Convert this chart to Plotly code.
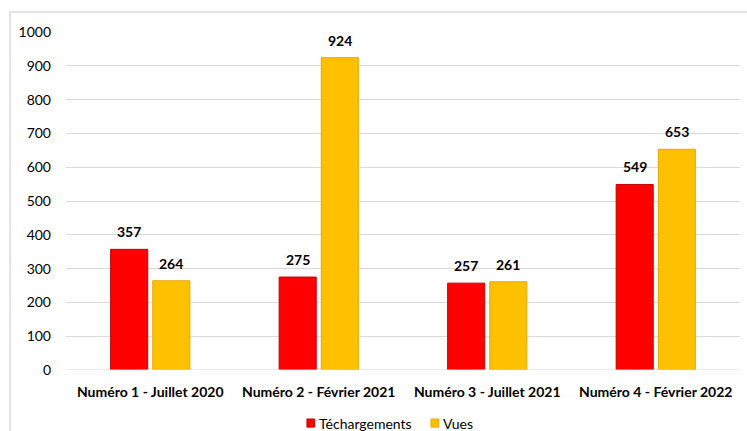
import plotly.graph_objects as go

categories = ["Numéro 1 - Juillet 2020", "Numéro 2 - Février 2021",
              "Numéro 3 - Juillet 2021", "Numéro 4 - Février 2022"]
telechargements = [357, 275, 257, 549]
vues = [264, 924, 261, 653]
y_ticks = [0, 100, 200, 300, 400, 500, 600, 700, 800, 900, 1000]
series_names = ["Téchargements", "Vues"]
series_colors = ["#FF0000", "#FFC000"]
series_lines = ["#C00000", "#E6A800"]

FONT = "Lato"
FS = 14

fig = go.Figure()
for name, vals, col, lc in zip(series_names, [telechargements, vues], series_colors, series_lines):
    fig.add_trace(go.Bar(name=name, x=categories, y=vals,
                         marker=dict(color=col, line=dict(color=lc, width=1))))

# value labels above bars
for vals, shift in ((telechargements, -21), (vues, 21)):
    for c, v in zip(categories, vals):
        fig.add_annotation(x=c, y=v, xref="x", yref="y", text=f"<b>{v}</b>",
                           showarrow=False, yanchor="bottom", xshift=shift, yshift=7,
                           font=dict(family=FONT, size=FS, color="#000000"))

# custom legend
legend_items = [(0.3575, series_names[0], series_colors[0], series_lines[0]),
                (0.5415, series_names[1], series_colors[1], series_lines[1])]
for x0, name, col, lc in legend_items:
    fig.add_shape(type="rect", xref="paper", yref="paper",
                  x0=x0, x1=x0 + 0.0115, y0=-0.169, y1=-0.145,
                  fillcolor=col, line=dict(color=lc, width=1))
    fig.add_annotation(x=x0 + 0.0155, y=-0.157, xref="paper", yref="paper", text=name,
                       showarrow=False, xanchor="left", yanchor="middle",
                       font=dict(family=FONT, size=FS, color="#000000"))

fig.update_layout(
    width=747, height=431,
    margin=dict(l=66, r=7, t=32, b=61, autoexpand=False),
    paper_bgcolor="white", plot_bgcolor="white",
    barmode="group", bargap=0.50, bargroupgap=0.12,
    font=dict(family=FONT, size=FS, color="#000000"),
    showlegend=False,
    xaxis=dict(showgrid=False, showline=False, zeroline=False, automargin=False,
               tickfont=dict(family=FONT, size=FS, weight="bold", color="#000000"),
               ticks="", ticklabelstandoff=12),
    yaxis=dict(range=[0, 1000], tickvals=y_ticks, showgrid=True, automargin=False,
               gridcolor="#D9D9D9", gridwidth=1, zeroline=False, showline=False,
               tickfont=dict(family=FONT, size=FS, color="#000000"),
               ticklabelstandoff=14),
)
fig.add_shape(type="rect", xref="paper", yref="paper",
              x0=-0.083, x1=1.03, y0=-0.25, y1=1.059,
              line=dict(color="#D9D9D9", width=1.5), layer="below")
fig.add_shape(type="line", xref="paper", yref="y", x0=0, x1=1, y0=0, y1=0,
              line=dict(color="#D9D9D9", width=1))

fig.write_html("out.html", config={"displayModeBar": False},
               post_script="document.body.style.margin='0';document.body.style.overflow='hidden';")
